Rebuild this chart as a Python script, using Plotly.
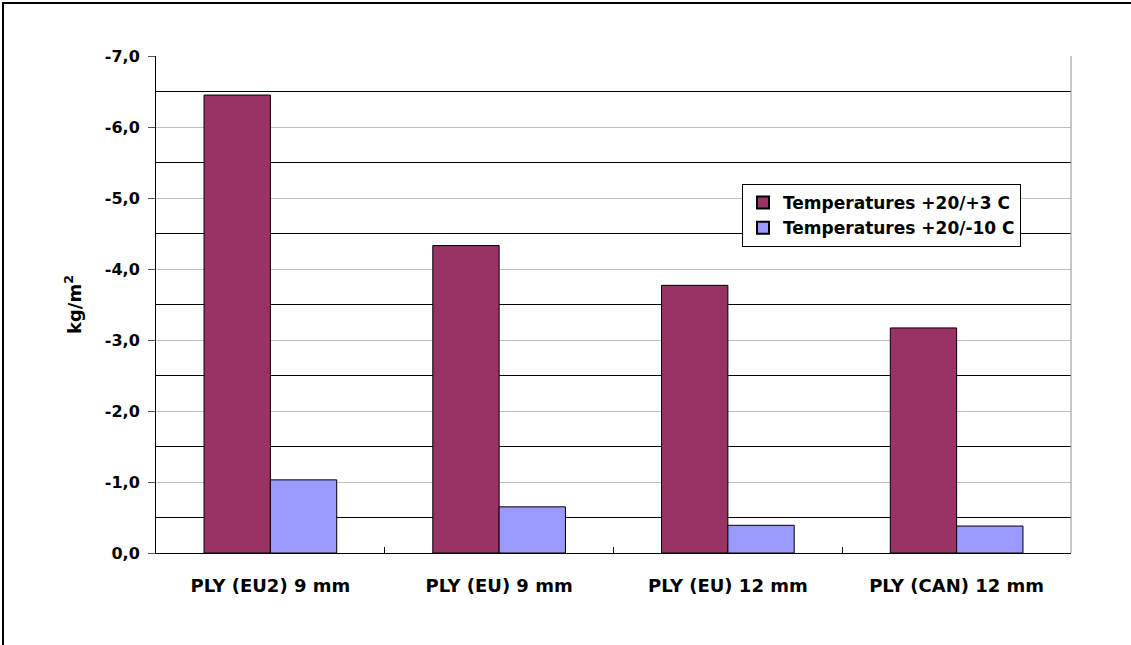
import plotly.graph_objects as go

categories = ["PLY (EU2) 9 mm", "PLY (EU) 9 mm", "PLY (EU) 12 mm", "PLY (CAN) 12 mm"]
series_names = ["Temperatures +20/+3 C", "Temperatures +20/-10 C"]
values_plus3 = [-6.45, -4.33, -3.77, -3.17]
values_minus10 = [-1.03, -0.65, -0.39, -0.38]
y_tickvals = [0, -1, -2, -3, -4, -5, -6, -7]
y_ticktext = ["0,0", "-1,0", "-2,0", "-3,0", "-4,0", "-5,0", "-6,0", "-7,0"]

W, H = 1131, 645
L, R, T, B = 156, 60, 56, 92
pw, ph = W - L - R, H - T - B

FONT = "DejaVu Sans"

fig = go.Figure()
fig.add_trace(go.Bar(
    x=categories, y=values_plus3, name=series_names[0],
    marker=dict(color="#993366", line=dict(color="black", width=1)),
))
fig.add_trace(go.Bar(
    x=categories, y=values_minus10, name=series_names[1],
    marker=dict(color="#9999FF", line=dict(color="black", width=1)),
))

fig.update_layout(
    width=W, height=H,
    margin=dict(l=L, r=R, t=T, b=B, pad=0),
    paper_bgcolor="white", plot_bgcolor="white",
    barmode="group", bargap=0.42, bargroupgap=0,
    font=dict(family=FONT, color="black", size=16, weight="bold"),
    showlegend=True,
    legend=dict(
        x=(742 - L) / pw, y=(553 - 184) / ph, xanchor="left", yanchor="top",
        bgcolor="white", bordercolor="black", borderwidth=1,
        font=dict(family=FONT, size=17, color="black", weight="bold"),
        tracegroupgap=0, itemsizing="constant",
    ),
    xaxis=dict(
        showgrid=False, showline=True, linecolor="black", linewidth=1,
        ticks="inside", tickson="boundaries", ticklen=6, tickcolor="black",
        tickfont=dict(family=FONT, size=18, color="black", weight="bold"),
        ticklabelstandoff=16,
    ),
    yaxis=dict(
        range=[0, -7], autorange=False,
        tickmode="array", tickvals=y_tickvals, ticktext=y_ticktext,
        showgrid=True, gridcolor="#c0c0c0", gridwidth=1,
        minor=dict(dtick=0.5, tick0=0, showgrid=True, gridcolor="black", gridwidth=1, ticks=""),
        showline=True, linecolor="black", linewidth=1,
        ticks="outside", ticklen=7, tickcolor="#555555",
        tickfont=dict(family=FONT, size=16, color="black", weight="bold"),
        ticklabelstandoff=5,
        zeroline=False,
        title=dict(text="kg/m<sup>2</sup>", standoff=18,
                   font=dict(family=FONT, size=18, color="black", weight="bold")),
    ),
    shapes=[
        dict(type="line", xref="paper", yref="paper", x0=1, x1=1, y0=0, y1=1,
             line=dict(color="#909090", width=1)),
        dict(type="rect", xref="paper", yref="paper",
             x0=(3 - L) / pw, x1=(W + 60 - L) / pw,
             y0=(553 - 3) / ph, y1=(553 - H - 60) / ph,
             line=dict(color="black", width=2), fillcolor="rgba(0,0,0,0)", layer="above"),
    ],
)

fig.write_html("out.html")
